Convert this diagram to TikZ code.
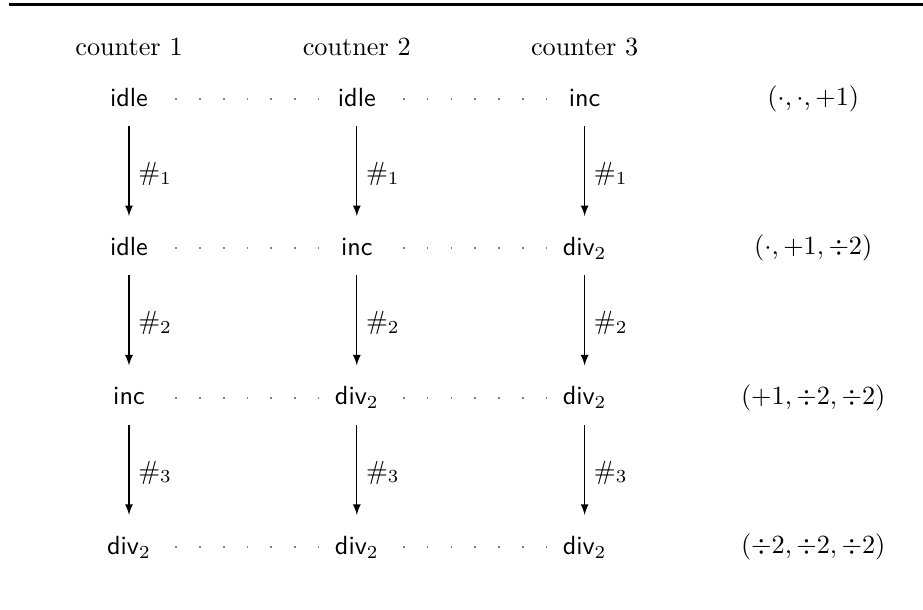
\documentclass[tikz,border=0pt]{standalone}
\usetikzlibrary{arrows,positioning}

\begin{document}
\begin{tikzpicture}[->,>=latex]
\tikzstyle{toestand} = [font=\sffamily, text height=1.5ex, text depth=.25ex]
\tikzstyle{stap} = [shorten <=3pt, shorten >=5pt]
\tikzstyle{stippel} = [-, gray, line width=0.7pt, dash pattern=on 0.7pt off 8.4pt, shorten <=17.5pt, shorten >=14.6pt]

\useasboundingbox (-17.27mm,-68.4mm) rectangle (106.3mm,13.25mm);
\draw [-, line width=1.1pt] (-16.06mm,12.65mm) -- (106.3mm,12.65mm);

\node [toestand] (onea) at (0,0) {idle};
\node [toestand] (twoa) [right of=onea, node distance=30.5mm] {idle};
\node [toestand] (threea) [right of=twoa, node distance=30.5mm] {inc};
\node (tupa) [right of=threea, node distance=30.6mm] {$(\cdot,\cdot,+1)$};

\node (head1) [above of=onea, node distance=7mm] {counter 1};
\node (head2) [above of=twoa, node distance=7mm] {coutner 2};
\node (head3) [above of=threea, node distance=7mm] {counter 3};

\node [toestand] (oneb) [below of=onea, node distance=20mm] {idle};
\node [toestand] (twob) [below of=twoa, node distance=20mm] {inc};
\node [toestand] (threeb) [below of=threea, node distance=20mm] {div$_2$};
\node (tupb) [right of=threeb, node distance=30.6mm] {$(\cdot,+1,\div 2)$};
\draw [stap] (onea) -- node[right] {$\#_1$} (oneb);
\draw [stap] (twoa) -- node[right] {$\#_1$} (twob);
\draw [stap] (threea) -- node[right] {$\#_1$} (threeb);

\node [toestand] (onec) [below of=oneb, node distance=20mm] {inc};
\node [toestand] (twoc) [below of=twob, node distance=20mm] {div$_2$};
\node [toestand] (threec) [below of=threeb, node distance=20mm] {div$_2$};
\node (tupc) [right of=threec, node distance=30.6mm] {$(+1,\div 2,\div 2)$};
\draw [stap] (oneb) -- node[right] {$\#_2$} (onec);
\draw [stap] (twob) -- node[right] {$\#_2$} (twoc);
\draw [stap] (threeb) -- node[right] {$\#_2$} (threec);

\node [toestand] (oned) [below of=onec, node distance=20mm] {div$_2$};
\node [toestand] (twod) [below of=twoc, node distance=20mm] {div$_2$};
\node [toestand] (threed) [below of=threec, node distance=20mm] {div$_2$};
\node (tupd) [right of=threed, node distance=30.6mm] {$(\div 2,\div 2,\div 2)$};
\draw [stap] (onec) -- node[right] {$\#_3$} (oned);
\draw [stap] (twoc) -- node[right] {$\#_3$} (twod);
\draw [stap] (threec) -- node[right] {$\#_3$} (threed);

% stippellijnen tussen de tellers
\foreach \r in {a,b,c,d} {
  \draw [stippel] (one\r.center) -- (two\r.center);
  \draw [stippel] (two\r.center) -- (three\r.center);
}

\end{tikzpicture}
\end{document}
